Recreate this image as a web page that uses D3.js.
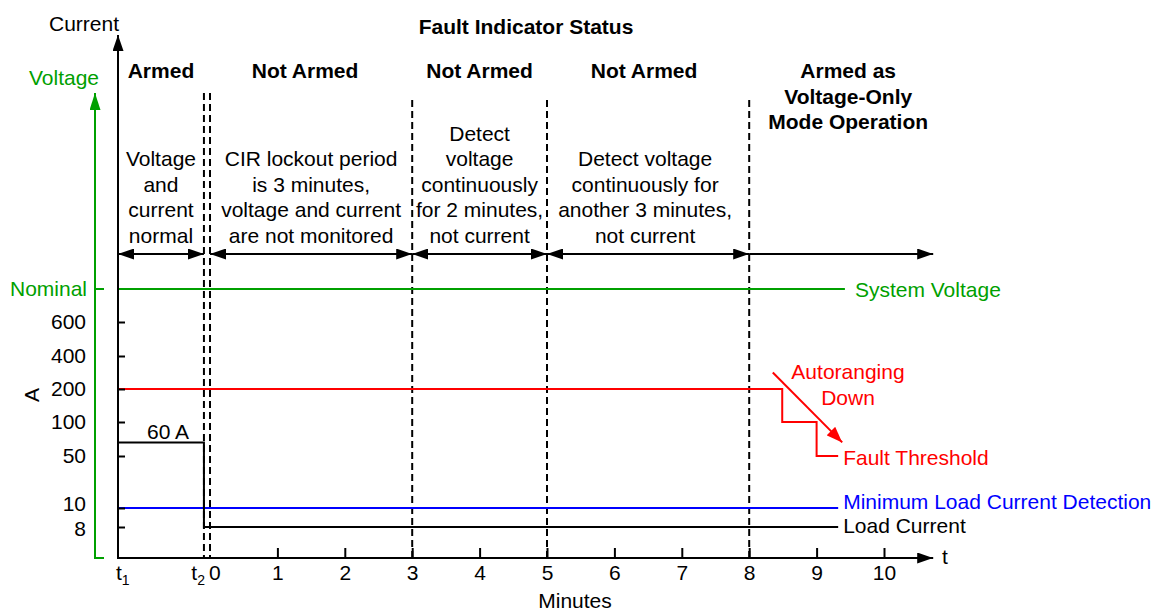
<!DOCTYPE html>
<html lang="en">
<head>
<meta charset="UTF-8">
<title>Fault Indicator Status</title>
<script src="https://cdnjs.cloudflare.com/ajax/libs/d3/7.8.5/d3.min.js"></script>
<style>
  body { margin: 0; background: #fff; }
  svg text { font-family: "Liberation Sans", Arial, sans-serif; font-size: 21px; }
</style>
</head>
<body>
<div id="chart"></div>
<script>
    var T1 = -1.365, T2 = -0.09;
    var minuteTicks = [1, 2, 3, 4, 5, 6, 7, 8, 9, 10];
    var ampTicks = [8, 10, 50, 100, 200, 400, 600];

    // period boundaries and texts
    var periodStart = [T1, 0, 3, 5, 8];
    var periodEnd   = [T2, 3, 5, 8, 10.73];
    var statusHeaders = [
        ["Armed"], ["Not Armed"], ["Not Armed"], ["Not Armed"],
        ["Armed as", "Voltage-Only", "Mode Operation"]
    ];
    var statusNotes = [
        ["Voltage", "and", "current", "normal"],
        ["CIR lockout period", "is 3 minutes,", "voltage and current", "are not monitored"],
        ["Detect", "voltage", "continuously", "for 2 minutes,", "not current"],
        ["Detect voltage", "continuously for", "another 3 minutes,", "not current"],
        []
    ];
    var eventLines = [T2, 0, 3, 5, 8];

    // series
    var systemVoltage = [{t: T1, v: 1}, {t: 9.42, v: 1}];
    var loadCurrent = [{t: T1, a: 70}, {t: T2, a: 70}, {t: T2, a: 8}, {t: 9.32, a: 8}];
    var minLoadCurrent = [{t: T1, a: 10}, {t: 9.32, a: 10}];
    var faultThreshold = [{t: T1, a: 200}, {t: 8.49, a: 200}, {t: 8.49, a: 100},
                          {t: 9.0, a: 100}, {t: 9.0, a: 50}, {t: 9.32, a: 50}];
    var autorangeArrow = [{t: 8.35, a: 300}, {t: 9.38, a: 70}];

    var GREEN = "#00a000", RED = "#ff0000", BLUE = "#0000ff";

    var width = 1157, height = 611;
    var axisX = 118, axisY = 558, axisTop = 35;

    var x = d3.scaleLinear().domain([0, 10]).range([210, 884]);
    // broken amp axis, as drawn
    var y = d3.scaleLinear()
        .domain([8, 10, 50, 100, 200, 400, 600])
        .range([527, 508, 456, 422, 389, 356, 322]);
    var yV = d3.scaleLinear().domain([0, 1]).range([axisY, 289]);

    var svg = d3.select("#chart").append("svg")
        .attr("width", width)
        .attr("height", height);

    var defs = svg.append("defs");
    function marker(id, color, len, wid) {
        defs.append("marker")
            .attr("id", id)
            .attr("markerUnits", "userSpaceOnUse")
            .attr("markerWidth", len).attr("markerHeight", wid)
            .attr("refX", len).attr("refY", wid / 2)
            .attr("orient", "auto-start-reverse")
            .append("path")
            .attr("d", "M0,0L" + len + "," + (wid / 2) + "L0," + wid + "Z")
            .attr("fill", color);
    }
    marker("arrK", "#000", 16, 11);
    marker("arrAx", "#000", 16, 11);
    marker("arrG", GREEN, 17, 11);
    marker("arrR", RED, 16, 12);

    // dashed event lines
    svg.selectAll(".event").data(eventLines).enter().append("line")
        .attr("x1", function (d) { return x(d); })
        .attr("x2", function (d) { return x(d); })
        .attr("y1", function (d) { return d <= 0 ? 93 : 100; })
        .attr("y2", axisY)
        .attr("stroke", "#000")
        .attr("stroke-width", 2)
        .attr("stroke-dasharray", "7,4");

    // series lines
    var lineA = d3.line()
        .x(function (d) { return x(d.t); })
        .y(function (d) { return y(d.a); });
    var lineV = d3.line()
        .x(function (d) { return x(d.t); })
        .y(function (d) { return yV(d.v); });

    svg.append("path").datum(systemVoltage).attr("d", lineV)
        .attr("fill", "none").attr("stroke", GREEN).attr("stroke-width", 2);
    svg.append("path").datum(faultThreshold).attr("d", lineA)
        .attr("fill", "none").attr("stroke", RED).attr("stroke-width", 2);
    svg.append("path").datum(minLoadCurrent).attr("d", lineA)
        .attr("fill", "none").attr("stroke", BLUE).attr("stroke-width", 2);
    svg.append("path").datum(loadCurrent).attr("d", lineA)
        .attr("fill", "none").attr("stroke", "#000").attr("stroke-width", 2);
    svg.append("path").datum(autorangeArrow).attr("d", lineA)
        .attr("fill", "none").attr("stroke", RED).attr("stroke-width", 2)
        .attr("marker-end", "url(#arrR)");

    // x axis
    var xAxis = d3.axisBottom(x)
        .tickValues(minuteTicks)
        .tickFormat(d3.format("d"))
        .tickSize(-10)
        .tickPadding(7);
    var gx = svg.append("g")
        .attr("transform", "translate(0," + axisY + ")")
        .call(xAxis);
    gx.select(".domain").remove();
    gx.selectAll("line").attr("stroke", "#000").attr("stroke-width", 2);
    gx.selectAll("text").style("font-size", "21px").attr("fill", "#000");

    svg.append("line")
        .attr("x1", axisX).attr("x2", x(10.73))
        .attr("y1", axisY).attr("y2", axisY)
        .attr("stroke", "#000").attr("stroke-width", 2)
        .attr("marker-end", "url(#arrAx)");

    // t1, t2, 0 labels
    function tLabel(txt, sub, px, anchor) {
        var t = svg.append("text")
            .attr("x", px).attr("y", 580)
            .attr("text-anchor", anchor);
        t.append("tspan").text(txt);
        if (sub) {
            t.append("tspan").text(sub)
                .attr("dy", 5)
                .style("font-size", "14px");
        }
    }
    tLabel("t", "1", x(T1) - 2, "start");
    tLabel("t", "2", x(T2) + 1, "end");
    tLabel("0", null, x(0) - 1, "start");

    svg.append("text").attr("x", 942).attr("y", 564).text("t");
    svg.append("text").attr("x", 575).attr("y", 608)
        .attr("text-anchor", "middle").text("Minutes");

    // amp axis
    var yAxis = d3.axisLeft(y)
        .tickValues(ampTicks)
        .tickSize(-7)
        .tickPadding(32);
    var gy = svg.append("g")
        .attr("transform", "translate(" + axisX + ",0)")
        .call(yAxis);
    gy.select(".domain").remove();
    gy.selectAll("line").attr("stroke", "#000").attr("stroke-width", 2);
    gy.selectAll("text").style("font-size", "21px").attr("fill", "#000")
        .attr("dy", function (d) { return d === 10 ? "0.1em" : d === 8 ? "0.4em" : "0.32em"; });

    svg.append("line")
        .attr("x1", axisX).attr("x2", axisX)
        .attr("y1", axisY + 1).attr("y2", axisTop)
        .attr("stroke", "#000").attr("stroke-width", 2)
        .attr("marker-end", "url(#arrK)");

    svg.append("text").attr("x", 119).attr("y", 31)
        .attr("text-anchor", "end").text("Current");
    svg.append("text")
        .attr("transform", "translate(39,395) rotate(-90)")
        .attr("text-anchor", "middle").text("A");

    // voltage axis
    var vX = 95;
    svg.append("path")
        .attr("d", "M" + (vX + 9) + "," + axisY + "H" + vX + "V93")
        .attr("fill", "none").attr("stroke", GREEN).attr("stroke-width", 2)
        .attr("marker-end", "url(#arrG)");
    svg.append("line")
        .attr("x1", vX).attr("x2", vX + 9)
        .attr("y1", yV(1)).attr("y2", yV(1))
        .attr("stroke", GREEN).attr("stroke-width", 2);
    svg.append("text").attr("x", 87).attr("y", yV(1) + 7)
        .attr("text-anchor", "end").attr("fill", GREEN).text("Nominal");
    svg.append("text").attr("x", 64).attr("y", 85)
        .attr("text-anchor", "middle").attr("fill", GREEN).text("Voltage");

    // period span arrows
    svg.selectAll(".span").data(periodStart).enter().append("line")
        .attr("x1", function (d) { return x(d); })
        .attr("x2", function (d, i) { return x(periodEnd[i]); })
        .attr("y1", 254).attr("y2", 254)
        .attr("stroke", "#000").attr("stroke-width", 2)
        .attr("marker-start", function (d, i) { return i < 4 ? "url(#arrK)" : null; })
        .attr("marker-end", "url(#arrK)");

    // headers and notes
    var lh = 25.5;
    statusHeaders.forEach(function (lines, i) {
        var cx = x((periodStart[i] + periodEnd[i]) / 2);
        if (i === 1) cx -= 6;
        if (i === 3) cx -= 4;
        if (i === 4) cx += 7;
        var t = svg.append("text")
            .attr("text-anchor", "middle")
            .style("font-weight", "bold");
        lines.forEach(function (s, k) {
            t.append("tspan").attr("x", cx).attr("y", 78 + k * lh).text(s);
        });
    });
    statusNotes.forEach(function (lines, i) {
        var cx = x((periodStart[i] + periodEnd[i]) / 2);
        if (i === 3) cx -= 3;
        var t = svg.append("text").attr("text-anchor", "middle");
        lines.forEach(function (s, k) {
            t.append("tspan").attr("x", cx)
                .attr("y", 242.5 - (lines.length - 1 - k) * lh).text(s);
        });
    });

    svg.append("text").attr("x", 526).attr("y", 34)
        .attr("text-anchor", "middle").style("font-weight", "bold")
        .text("Fault Indicator Status");

    // series labels
    svg.append("text").attr("x", x(9.42) + 10).attr("y", yV(1) + 8)
        .attr("fill", GREEN).text("System Voltage");
    svg.append("text").attr("x", x(9.32) + 5).attr("y", y(10) + 1)
        .attr("fill", BLUE).text("Minimum Load Current Detection");
    svg.append("text").attr("x", x(9.32) + 5).attr("y", y(8) + 6)
        .attr("fill", "#000").text("Load Current");
    svg.append("text").attr("x", x(9.32) + 5).attr("y", y(50) + 9)
        .attr("fill", RED).text("Fault Threshold");
    svg.append("text").attr("text-anchor", "middle").attr("fill", RED)
        .selectAll("tspan").data(["Autoranging", "Down"]).enter().append("tspan")
        .attr("x", 848)
        .attr("y", function (d, i) { return 379 + i * 26; })
        .text(function (d) { return d; });
    svg.append("text").attr("x", 168).attr("y", 439)
        .attr("text-anchor", "middle").text("60 A");
</script>
</body>
</html>
